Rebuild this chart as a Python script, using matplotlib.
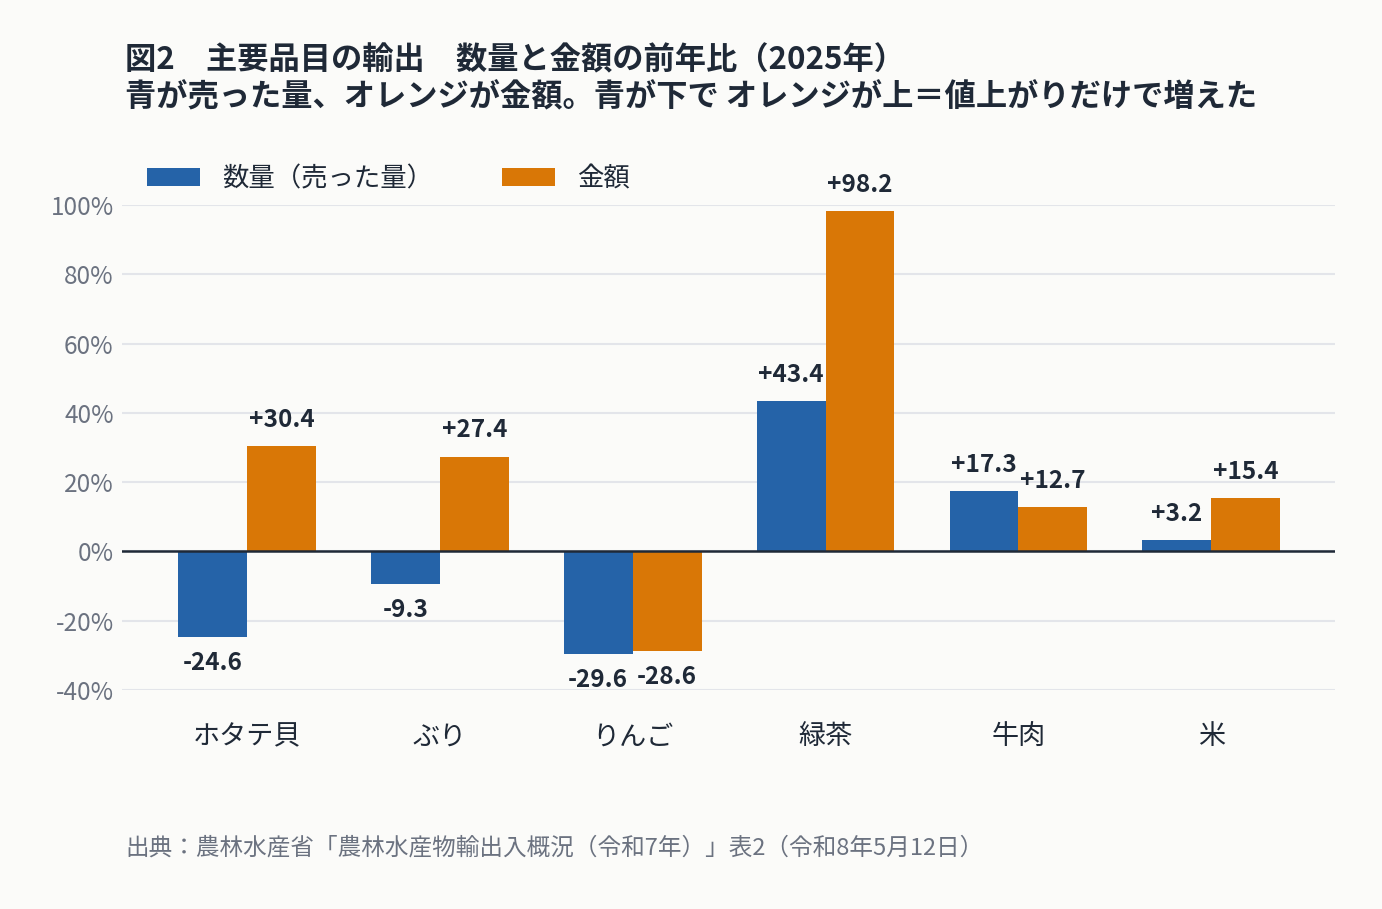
import matplotlib
matplotlib.use("Agg")
import matplotlib.pyplot as plt
import numpy as np

plt.rcParams['font.family'] = ['Noto Sans CJK JP', 'DejaVu Sans']

categories = ["ホタテ貝", "ぶり", "りんご", "緑茶", "牛肉", "米"]
volume = [-24.6, -9.3, -29.6, 43.4, 17.3, 3.2]
value = [30.4, 27.4, -28.6, 98.2, 12.7, 15.4]
yticks = [-40, -20, 0, 20, 40, 60, 80, 100]

BLUE = "#2563a8"
ORANGE = "#d97706"
BG = "#fbfbf9"
DARK = "#1f2937"
GRAY = "#6b7280"

fig = plt.figure(figsize=(13.82, 9.09), dpi=100, facecolor=BG)
ax = fig.add_axes([122/1382, (909-690)/909, 1213/1382, 485/909], facecolor=BG)

x = np.arange(len(categories))
w = 0.357
b1 = ax.bar(x - w/2, volume, w, color=BLUE, label="数量（売った量）", zorder=3)
b2 = ax.bar(x + w/2, value, w, color=ORANGE, label="金額", zorder=3)

def lab(v):
    return f"+{v:.1f}" if v > 0 else f"{v:.1f}"

for bars, vals in ((b1, volume), (b2, value)):
    for r, v in zip(bars, vals):
        off = 19 if v > 0 else -19
        ax.annotate(lab(v), (r.get_x() + r.get_width()/2, v), xytext=(0, off),
                    textcoords="offset points", ha="center", va="center",
                    fontsize=17.5, fontweight="bold", color=DARK, zorder=4)

ax.set_xlim(-0.648, 5.642)
ax.set_ylim(-40, 100)
ax.set_yticks(yticks)
ax.set_yticklabels([f"{t}%" for t in yticks], fontsize=17.5, color=GRAY)
ax.set_xticks(x)
ax.set_xticklabels(categories, fontsize=19.5, color=DARK)
ax.tick_params(axis="both", length=0)
ax.tick_params(axis="x", pad=24)
ax.tick_params(axis="y", pad=6)
ax.grid(axis="y", color="#e3e5ea", linewidth=1.5, zorder=0)
ax.axhline(0, color=DARK, linewidth=1.8, zorder=5)
for s in ax.spines.values():
    s.set_visible(False)
ax.set_axisbelow(True)

leg = ax.legend(loc="center left", bbox_to_anchor=((147-122)/1213, 1 + 26/485), ncol=2,
                frameon=False, fontsize=19, handlelength=2.0, handleheight=0.65,
                columnspacing=2.6, handletextpad=0.85, borderpad=0, borderaxespad=0)
for t in leg.get_texts():
    t.set_color(DARK)

fig.text(125/1382, 1 - 60/909, "図2　主要品目の輸出　数量と金額の前年比（2025年）",
         fontsize=22.5, fontweight="bold", color=DARK, va="center")
fig.text(125/1382, 1 - 97/909, "青が売った量、オレンジが金額。青が下で オレンジが上＝値上がりだけで増えた",
         fontsize=22.5, fontweight="bold", color=DARK, va="center")
fig.text(125/1382, 1 - 848/909, "出典：農林水産省「農林水産物輸出入概況（令和7年）」表2（令和8年5月12日）",
         fontsize=17, color=GRAY, va="center")

fig.savefig("out.png", dpi=100, facecolor=BG)
